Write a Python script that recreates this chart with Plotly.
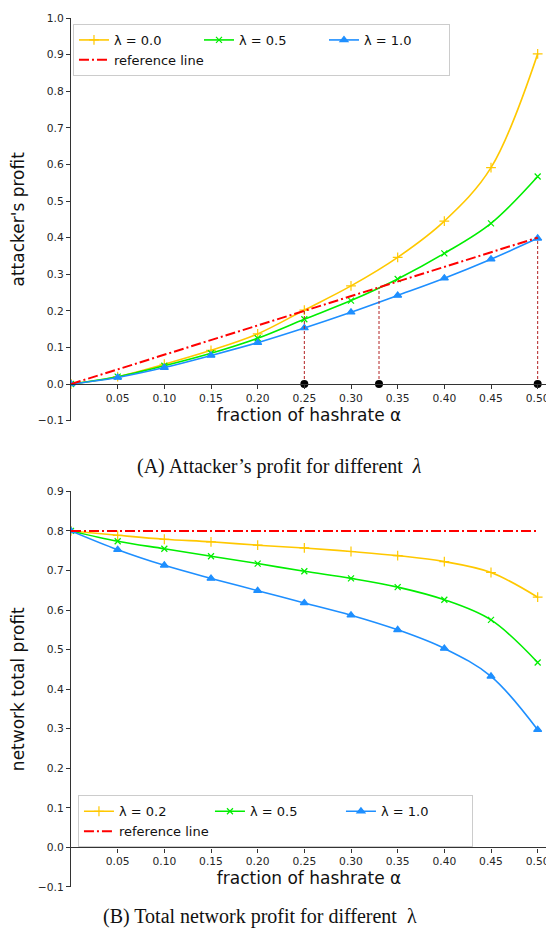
import plotly.graph_objects as go

# ---------------- data ----------------
alpha = [0.0, 0.05, 0.10, 0.15, 0.20, 0.25, 0.30, 0.35, 0.40, 0.45, 0.50]

# (A) attacker's profit
atk_l00 = [0.0, 0.020, 0.054, 0.092, 0.137, 0.202, 0.268, 0.346, 0.445, 0.591, 0.902]
atk_l05 = [0.0, 0.020, 0.050, 0.084, 0.125, 0.177, 0.228, 0.287, 0.357, 0.439, 0.567]
atk_l10 = [0.0, 0.018, 0.045, 0.078, 0.113, 0.153, 0.196, 0.242, 0.289, 0.341, 0.398]
atk_ref_alpha = [0.0, 0.50]
atk_ref = [0.0, 0.40]
cross_alpha = [0.25, 0.33, 0.50]
cross_profit = [0.200, 0.264, 0.400]

# (B) total network profit
net_l02 = [0.800, 0.789, 0.779, 0.7725, 0.764, 0.757, 0.748, 0.7375, 0.7225, 0.695, 0.6325]
net_l05 = [0.800, 0.774, 0.755, 0.736, 0.7175, 0.698, 0.680, 0.658, 0.626, 0.575, 0.4675]
net_l10 = [0.800, 0.7525, 0.713, 0.680, 0.649, 0.618, 0.587, 0.550, 0.503, 0.4325, 0.2975]
net_ref_alpha = [0.0, 0.50]
net_ref = [0.80, 0.80]

x_tickvals = [0.05, 0.10, 0.15, 0.20, 0.25, 0.30, 0.35, 0.40, 0.45, 0.50]
y_ticks_a = [-0.1, 0.0, 0.1, 0.2, 0.3, 0.4, 0.5, 0.6, 0.7, 0.8, 0.9, 1.0]
y_ticks_b = [-0.1, 0.0, 0.1, 0.2, 0.3, 0.4, 0.5, 0.6, 0.7, 0.8, 0.9]

# ---------------- style ----------------
YEL = "#FFC800"
GRN = "#00EE00"
BLU = "#1E8FFF"
RED = "#FF0000"
DROP = "#B22222"
FONT = "DejaVu Sans"

# page body has an 8px margin, so the figure is laid out 8px smaller/shifted
W, H = 546, 929
ML, MR, MT, MB = 63, 4, 7, 50
PH = H - MT - MB
PW = W - ML - MR
dom_a = [(887 - 419) / PH, 1.0]
dom_b = [0.0, (887 - 490) / PH]
pos_a = dom_a[0] + (0.1 / 1.1) * (dom_a[1] - dom_a[0])
pos_b = dom_b[0] + (0.1 / 1.0) * (dom_b[1] - dom_b[0])

fig = go.Figure()

def curve(x, y, name, color, symbol, xa, ya, legend, msize=7):
    fig.add_trace(go.Scatter(
        x=x, y=y, name=name, mode="lines+markers",
        line=dict(color=color, width=1.6, shape="spline", smoothing=1.0),
        marker=dict(symbol=symbol, size=msize, color=color,
                    line=dict(color=color, width=1.2)),
        xaxis=xa, yaxis=ya, legend=legend))

# ---- panel A ----
curve(alpha, atk_l00, "λ = 0.0", YEL, "cross-thin", "x", "y", "legend", 7)
curve(alpha, atk_l05, "λ = 0.5", GRN, "x-thin", "x", "y", "legend", 6)
curve(alpha, atk_l10, "λ = 1.0", BLU, "triangle-up", "x", "y", "legend", 7)
fig.add_trace(go.Scatter(x=atk_ref_alpha, y=atk_ref, name="reference line", mode="lines",
                         line=dict(color=RED, width=2, dash="10px,3px,2px,3px"),
                         xaxis="x", yaxis="y", legend="legend"))
for a, p in zip(cross_alpha, cross_profit):
    fig.add_trace(go.Scatter(x=[a, a], y=[0, p], mode="lines", showlegend=False,
                             line=dict(color=DROP, width=1, dash="3px,2px"),
                             xaxis="x", yaxis="y", hoverinfo="skip"))
fig.add_trace(go.Scatter(x=cross_alpha, y=[0] * len(cross_alpha), mode="markers",
                         showlegend=False, marker=dict(color="black", size=8),
                         xaxis="x", yaxis="y", cliponaxis=False))

# ---- panel B ----
curve(alpha, net_l02, "λ = 0.2", YEL, "cross-thin", "x2", "y2", "legend2", 7)
curve(alpha, net_l05, "λ = 0.5", GRN, "x-thin", "x2", "y2", "legend2", 6)
curve(alpha, net_l10, "λ = 1.0", BLU, "triangle-up", "x2", "y2", "legend2", 7)
fig.add_trace(go.Scatter(x=net_ref_alpha, y=net_ref, name="reference line", mode="lines",
                         line=dict(color=RED, width=2, dash="10px,3px,2px,3px"),
                         xaxis="x2", yaxis="y2", legend="legend2"))

tickfont = dict(family=FONT, size=10.7, color="#262626")
titlefont = dict(family=FONT, size=17, color="#111111")

def xaxis(pos):
    return dict(range=[0, 0.51], anchor="free", position=pos,
                showline=True, linecolor="#333333", linewidth=1.2,
                ticks="outside", ticklen=4, tickcolor="#333333",
                tickvals=x_tickvals, tickformat=".2f", tickfont=tickfont,
                showgrid=False, zeroline=False,
                title=dict(text="fraction of hashrate α", font=titlefont, standoff=3))

def yaxis(dom, rng, tv, title, xref):
    return dict(domain=dom, range=rng, anchor=xref,
                showline=True, linecolor="#333333", linewidth=1.2,
                ticks="outside", ticklen=4, tickcolor="#333333",
                tickvals=tv, tickformat=".1f", tickfont=tickfont,
                showgrid=False, zeroline=False,
                title=dict(text=title, font=titlefont, standoff=12))

legend_common = dict(orientation="h", xanchor="left", yanchor="top",
                     bgcolor="rgba(255,255,255,0.85)", bordercolor="#CCCCCC", borderwidth=1,
                     font=dict(family=FONT, size=13, color="#111111"),
                     entrywidthmode="pixels", tracegroupgap=0)

fig.update_layout(
    width=W, height=H,
    margin=dict(l=ML, r=MR, t=MT, b=MB),
    plot_bgcolor="white", paper_bgcolor="white",
    xaxis=xaxis(pos_a),
    yaxis=yaxis(dom_a, [-0.1, 1.0], y_ticks_a, "attacker's profit", "x"),
    xaxis2=xaxis(pos_b),
    yaxis2=yaxis(dom_b, [-0.1, 0.9], y_ticks_b, "network total profit", "x2"),
    legend=dict(legend_common, x=(73 - 71) / PW, y=(887 - 21) / PH, entrywidth=80),
    legend2=dict(legend_common, x=(78 - 71) / PW, y=(887 - 795) / PH, entrywidth=86),
    showlegend=True,
    annotations=[
        dict(text="(A) Attacker’s profit for different  <i>λ</i>", xref="paper", yref="paper",
             x=(281 - 71) / PW, y=(887 - 465) / PH, xanchor="center", yanchor="middle",
             showarrow=False, font=dict(family="Liberation Serif", size=20, color="#111111")),
        dict(text="(B) Total network profit for different  λ", xref="paper", yref="paper",
             x=(261 - 71) / PW, y=(887 - 917) / PH, xanchor="center", yanchor="middle",
             showarrow=False, font=dict(family="Liberation Serif", size=20, color="#111111")),
    ],
)

fig.write_html("out.html")
